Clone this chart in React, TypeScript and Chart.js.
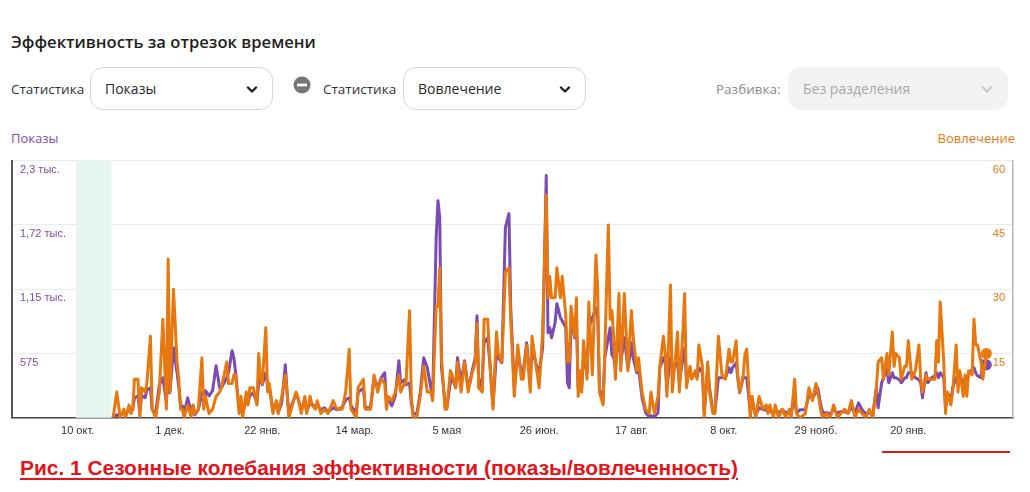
import React, { useEffect, useRef } from "react";
import { Chart, registerables } from "chart.js";

Chart.register(...registerables);

// Day index 0 = 30 Oct (first day with data)
const DAYS = [
  0, 2, 4, 6, 7, 9, 10, 11, 12, 14,
  15, 16, 18, 19, 21, 22, 24, 26, 28, 30,
  31, 32, 34, 36, 37, 38, 39, 40, 42, 44,
  45, 46, 48, 50, 51, 52, 54, 56, 58, 60,
  61, 64, 65, 67, 68, 69, 71, 72, 73, 75,
  76, 77, 79, 81, 82, 83, 84, 86, 87, 88,
  90, 92, 93, 95, 97, 98, 99, 101, 103, 104,
  106, 108, 109, 111, 112, 114, 115, 117, 119, 121,
  124, 126, 129, 131, 133, 134, 137, 138, 141, 142,
  145, 147, 149, 151, 153, 154, 155, 157, 159, 161,
  162, 164, 165, 167, 168, 169, 171, 173, 175, 177,
  179, 180, 182, 183, 184, 185, 187, 188, 190, 191,
  193, 194, 196, 198, 200, 201, 202, 204, 205, 206,
  208, 209, 211, 212, 214, 216, 217, 219, 221, 223,
  224, 226, 228, 230, 231, 233, 235, 236, 238, 240,
  242, 244, 245, 246, 247, 249, 250, 252, 253, 255,
  256, 257, 258, 260, 261, 262, 263, 264, 265, 267,
  268, 270, 272, 273, 274, 276, 277, 279, 280, 281,
  282, 283, 285, 286, 288, 290, 291, 292, 293, 295,
  296, 298, 300, 302, 303, 305, 307, 308, 310, 311,
  312, 314, 315, 317, 318, 319, 321, 322, 323, 325,
  326, 328, 329, 330, 332, 333, 335, 336, 338, 339,
  341, 343, 345, 347, 348, 349, 351, 352, 353, 355,
  356, 357, 359, 360, 362, 364, 366, 368, 369, 370,
  372, 373, 375, 377, 379, 381, 382, 384, 385, 387,
  390, 392, 394, 396, 397, 399, 400, 402, 404, 406,
  408, 410, 412, 414, 416, 418, 420, 422, 424, 426,
  428, 430, 431, 433, 434, 436, 437, 439, 440, 441,
  443, 444, 446, 447, 448, 450, 452, 454, 455, 456,
  458, 459, 461, 463, 464, 465, 466, 468, 469, 470,
  472, 473, 475, 476, 477, 479, 480, 481, 482, 484,
  485, 486, 487, 489, 490, 492,
];

// Вовлечение (right axis)
const ENGAGEMENT = [
  0, 6, 0, 2, 0, 3, 1, 2, 9, 9,
  0, 7, 6, 8, 19, 2, 0, 6, 23, 2,
  37, 6, 30, 13, 9, 2, 2, 0, 3, 0,
  3, 1, 2, 14, 2, 5, 1, 2, 5, 6,
  7, 13, 8, 8, 10, 10, 1, 5, 0, 6,
  3, 7, 7, 3, 15, 9, 8, 21, 6, 8,
  1, 4, 1, 5, 10, 6, 0, 3, 6, 5,
  1, 5, 1, 5, 3, 2, 4, 1, 2, 1,
  4, 2, 2, 6, 16, 2, 0, 7, 9, 2,
  2, 10, 6, 9, 8, 2, 5, 4, 6, 10,
  6, 8, 8, 25, 5, 0, 0, 5, 12, 6,
  6, 4, 26, 26, 35, 14, 2, 2, 11, 10,
  7, 13, 6, 13, 6, 8, 10, 13, 22, 7,
  6, 23, 23, 15, 2, 20, 15, 13, 34, 35,
  23, 5, 17, 9, 9, 17, 6, 19, 13, 7,
  20, 52, 28, 33, 28, 28, 35, 28, 33, 24,
  13, 13, 26, 19, 28, 5, 11, 6, 18, 9,
  27, 10, 38, 30, 6, 3, 15, 45, 23, 25,
  19, 9, 29, 11, 29, 11, 18, 25, 19, 11,
  14, 6, 2, 1, 6, 1, 5, 12, 19, 15,
  5, 31, 6, 15, 20, 6, 20, 29, 7, 12,
  9, 11, 9, 17, 12, 0, 13, 6, 1, 1,
  19, 10, 9, 16, 13, 13, 18, 9, 6, 10,
  15, 16, 0, 5, 0, 5, 2, 3, 1, 3,
  0, 3, 0, 2, 0, 2, 0, 9, 1, 0,
  1, 7, 4, 8, 6, 1, 0, 1, 0, 3,
  0, 1, 2, 1, 4, 0, 2, 1, 0, 2,
  0, 7, 13, 14, 9, 15, 10, 20, 12, 15,
  14, 9, 12, 12, 18, 9, 11, 17, 9, 6,
  10, 9, 9, 9, 18, 13, 27, 13, 1, 6,
  3, 6, 17, 6, 11, 5, 10, 5, 11, 10,
  23, 17, 17, 13, 9, 15,
];

// Показы (left axis)
const IMPRESSIONS = [
  0, 27, 18, 45, 27, 81, 45, 72, 179, 197,
  45, 197, 179, 251, 269, 72, 45, 295, 358, 134,
  403, 224, 627, 403, 269, 107, 107, 45, 179, 45,
  107, 27, 72, 224, 134, 242, 197, 242, 465, 269,
  269, 358, 403, 600, 537, 403, 72, 134, 45, 161,
  134, 197, 224, 134, 313, 358, 295, 403, 295, 269,
  72, 134, 45, 134, 474, 224, 36, 134, 206, 179,
  72, 161, 54, 134, 125, 90, 107, 72, 90, 54,
  90, 72, 90, 161, 179, 107, 45, 224, 269, 90,
  90, 358, 269, 358, 403, 134, 161, 107, 197, 510,
  313, 340, 295, 313, 134, 45, 27, 224, 537, 448,
  269, 179, 1611, 1942, 1790, 448, 134, 90, 313, 358,
  269, 537, 313, 510, 269, 313, 403, 537, 913, 269,
  358, 671, 716, 537, 107, 582, 537, 492, 1700, 1826,
  985, 269, 582, 403, 403, 671, 313, 627, 492, 403,
  627, 2166, 761, 806, 716, 850, 1020, 895, 868, 806,
  313, 269, 895, 716, 895, 269, 403, 269, 537, 403,
  806, 895, 985, 895, 269, 134, 537, 716, 806, 564,
  537, 448, 806, 492, 716, 448, 537, 671, 537, 403,
  448, 179, 45, 9, 18, 9, 45, 448, 537, 492,
  269, 537, 448, 465, 492, 313, 537, 627, 358, 403,
  358, 403, 358, 448, 403, 45, 448, 269, 45, 45,
  358, 358, 358, 448, 403, 448, 492, 358, 224, 358,
  358, 358, 45, 134, 27, 90, 72, 72, 45, 72,
  36, 72, 45, 72, 45, 54, 45, 179, 45, 72,
  72, 197, 179, 224, 269, 90, 45, 45, 36, 72,
  45, 54, 54, 45, 90, 45, 134, 72, 36, 45,
  27, 269, 90, 313, 358, 430, 313, 403, 358, 358,
  340, 313, 358, 358, 403, 403, 358, 340, 313, 179,
  403, 313, 358, 376, 403, 358, 403, 358, 90, 224,
  161, 269, 358, 313, 403, 269, 358, 313, 403, 430,
  448, 403, 376, 358, 510, 474,
];

const X_TICK_DAYS = [-20, 32, 84, 136, 188, 240, 292, 344, 396, 448];
const X_TICK_LABELS = ["10 окт.", "1 дек.", "22 янв.", "14 мар.", "5 мая", "26 июн.", "17 авг.", "8 окт.", "29 нояб.", "20 янв."];
const X_RANGE = [-57, 507];
const HIGHLIGHT_DAYS = [-21, -1];

const LEFT_TICKS = [0, 575, 1150, 1725, 2300];
const LEFT_TICK_LABELS = ["", "575", "1,15 тыс.", "1,72 тыс.", "2,3 тыс."];
const RIGHT_TICKS = [0, 15, 30, 45, 60];
const RIGHT_TICK_LABELS = ["", "15", "30", "45", "60"];

const PURPLE = "#7b4bb2";
const ORANGE = "#e8770e";
const UI_FONT = "'Open Sans', 'Noto Sans', sans-serif";
const AXIS_FONT = "'Liberation Sans', Arial, sans-serif";

const bandPlugin = {
  id: "band",
  beforeDatasetsDraw(chart: any) {
    const { ctx, chartArea, scales } = chart;
    const x0 = scales.x.getPixelForValue(HIGHLIGHT_DAYS[0]);
    const x1 = scales.x.getPixelForValue(HIGHLIGHT_DAYS[1]);
    ctx.save();
    ctx.fillStyle = "#e5f5ef";
    ctx.fillRect(x0, chartArea.top, x1 - x0, chartArea.bottom - chartArea.top);
    // right-axis labels drawn inside the plot, right aligned
    ctx.fillStyle = ORANGE;
    ctx.font = `11px ${AXIS_FONT}`;
    ctx.textAlign = "right";
    ctx.textBaseline = "middle";
    RIGHT_TICKS.forEach((v, i) => {
      const t = RIGHT_TICK_LABELS[i];
      if (!t) return;
      ctx.fillText(t, chartArea.right - 8, scales.y1.getPixelForValue(v) + 9);
    });
    ctx.restore();
  },
};

function Chevron({ color }: { color: string }) {
  return (
    <svg width="12" height="8" viewBox="0 0 12 8" style={{ position: "absolute", right: 14, top: 18 }}>
      <path d="M2 1.5 L6 5.5 L10 1.5" stroke={color} strokeWidth="2.4" fill="none" strokeLinecap="round" strokeLinejoin="round" />
    </svg>
  );
}

function Select({ left, width, text, disabled }: { left: number; width: number; text: string; disabled?: boolean }) {
  return (
    <div
      style={{
        position: "absolute",
        left,
        top: 67,
        width,
        height: 43,
        boxSizing: "border-box",
        borderRadius: 13,
        border: disabled ? "1px solid #f2f2f2" : "1px solid #d6d6d6",
        background: disabled ? "#f2f2f2" : "#fff",
      }}
    >
      <span
        style={{
          position: "absolute",
          left: 14,
          top: 12,
          fontFamily: UI_FONT,
          fontSize: 14,
          color: disabled ? "#a8a8a8" : "#2a2a2a",
          lineHeight: "18px",
        }}
      >
        {text}
      </span>
      <Chevron color={disabled ? "#c8c8c8" : "#222"} />
    </div>
  );
}

export default function App() {
  const canvasRef = useRef<HTMLCanvasElement>(null);
  const captionRef = useRef<HTMLDivElement>(null);

  useEffect(() => {
    document.body.style.margin = "0";
    const cap = captionRef.current;
    if (cap) {
      const w = cap.getBoundingClientRect().width;
      if (w > 0) cap.style.transform = `scaleX(${718 / w})`;
    }
    const ctx = canvasRef.current!.getContext("2d")!;
    const last = DAYS.length - 1;
    const chart = new Chart(ctx, {
      type: "line",
      data: {
        datasets: [
          {
            label: "Вовлечение",
            data: DAYS.map((d, i) => ({ x: d, y: ENGAGEMENT[i] })),
            yAxisID: "y1",
            borderColor: ORANGE,
            backgroundColor: ORANGE,
            borderWidth: 3,
            tension: 0,
            borderJoinStyle: "round",
            pointRadius: (c: any) => (c.dataIndex === last ? 5.5 : 0),
            pointBorderWidth: 0,
            pointHoverRadius: 0,
          },
          {
            label: "Показы",
            data: DAYS.map((d, i) => ({ x: d, y: IMPRESSIONS[i] })),
            yAxisID: "y",
            borderColor: PURPLE,
            backgroundColor: PURPLE,
            borderWidth: 3,
            tension: 0,
            borderJoinStyle: "round",
            pointRadius: (c: any) => (c.dataIndex === last ? 5.5 : 0),
            pointBorderWidth: 0,
            pointHoverRadius: 0,
          },
        ],
      },
      options: {
        animation: false,
        responsive: false,
        maintainAspectRatio: false,
        events: [],
        layout: { padding: { left: -4, right: 17, top: 6, bottom: 4 } },
        plugins: { legend: { display: false }, tooltip: { enabled: false } },
        scales: {
          x: {
            type: "linear",
            min: X_RANGE[0],
            max: X_RANGE[1],
            grid: { display: false, drawTicks: false },
            border: { display: true, color: "#444", width: 1.5 },
            afterBuildTicks: (scale: any) => {
              scale.ticks = X_TICK_DAYS.map((v) => ({ value: v }));
            },
            ticks: {
              autoSkip: false,
              maxRotation: 0,
              padding: 7,
              color: "#333",
              font: { family: AXIS_FONT, size: 11 },
              callback: (v: any) => X_TICK_LABELS[X_TICK_DAYS.indexOf(Number(v))] ?? "",
            },
          },
          y: {
            type: "linear",
            position: "left",
            min: 0,
            max: 2300,
            afterBuildTicks: (scale: any) => {
              scale.ticks = LEFT_TICKS.map((v) => ({ value: v }));
            },
            grid: { color: "#ebebeb", lineWidth: 1, drawTicks: false },
            border: { display: true, color: "#555", width: 2 },
            ticks: {
              mirror: true,
              padding: 8,
              labelOffset: 9,
              color: PURPLE,
              font: { family: AXIS_FONT, size: 11 },
              callback: (v: any) => LEFT_TICK_LABELS[LEFT_TICKS.indexOf(Number(v))] ?? "",
            },
          },
          y1: {
            type: "linear",
            position: "right",
            min: 0,
            max: 60,
            afterBuildTicks: (scale: any) => {
              scale.ticks = RIGHT_TICKS.map((v) => ({ value: v }));
            },
            grid: { display: false, drawTicks: false },
            border: { display: true, color: "#b5b5b5", width: 1.5 },
            ticks: { display: false },
          },
        },
      },
      plugins: [bandPlugin],
    } as any);
    return () => chart.destroy();
  }, []);

  const label = (left: number, text: string, color = "#333") => (
    <span
      style={{ position: "absolute", left, top: 80, fontFamily: UI_FONT, fontSize: 13.5, color, lineHeight: "18px" }}
    >
      {text}
    </span>
  );

  return (
    <div style={{ position: "absolute", left: 0, top: 0, width: 1030, height: 492, background: "#fff", overflow: "hidden" }}>
      <div
        style={{
          position: "absolute",
          left: 11,
          top: 30,
          fontFamily: UI_FONT,
          fontWeight: 600,
          fontSize: 16.6,
          color: "#1e1e1e",
          lineHeight: "24px",
        }}
      >
        Эффективность за отрезок времени
      </div>
      {label(11, "Статистика")}
      <Select left={90} width={183} text="Показы" />
      <svg width="18" height="18" viewBox="0 0 18 18" style={{ position: "absolute", left: 293, top: 76 }}>
        <circle cx="9" cy="9" r="8.5" fill="#767676" />
        <rect x="4" y="7.6" width="10" height="2.8" fill="#fff" />
      </svg>
      {label(323, "Статистика")}
      <Select left={403} width={183} text="Вовлечение" />
      {label(716, "Разбивка:", "#8a8a8a")}
      <Select left={788} width={220} text="Без разделения" disabled />
      <span style={{ position: "absolute", left: 11, top: 129, fontFamily: UI_FONT, fontSize: 13, color: PURPLE, lineHeight: "18px" }}>
        Показы
      </span>
      <span style={{ position: "absolute", right: 15, top: 129, fontFamily: UI_FONT, fontSize: 13, color: ORANGE, lineHeight: "18px" }}>
        Вовлечение
      </span>
      <canvas ref={canvasRef} width={1030} height={303} style={{ position: "absolute", left: 0, top: 146, width: 1030, height: 303 }} />
      <div style={{ position: "absolute", left: 882, top: 451, width: 128, height: 2, background: "#e0181f" }} />
      <div
        ref={captionRef}
        style={{
          position: "absolute",
          left: 20,
          top: 455,
          fontFamily: AXIS_FONT,
          fontWeight: 700,
          fontSize: 21,
          color: "#e3141b",
          textDecoration: "underline",
          textDecorationThickness: "2px",
          textUnderlineOffset: "3px",
          lineHeight: "26px",
          whiteSpace: "nowrap",
          transformOrigin: "0 0",
        }}
      >
        Рис. 1 Сезонные колебания эффективности (показы/вовлеченность)
      </div>
    </div>
  );
}
